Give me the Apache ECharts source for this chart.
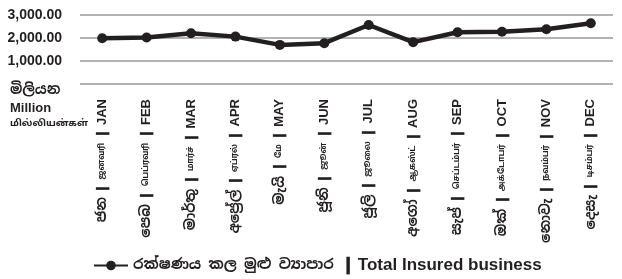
<!DOCTYPE html>
<html><head><meta charset="utf-8">
<script src="https://cdn.jsdelivr.net/npm/echarts@6/dist/echarts.min.js"></script>
<style>html,body{margin:0;padding:0;background:#fff}#c{width:622px;height:279px}</style>
</head><body><div id="c"></div>
<script>
const monthsSi = ['ජන','පෙබ','මාර්තු','අප්‍රේල්','මැයි','ජූනි','ජූලි','අගෝ','සැප්','ඔක්','නොවැ','දෙසැ'];
const monthsTa = ['ஜனவரி','பெப்ரவரி','மார்ச்','ஏப்ரல்','மே','ஜூன்','ஜூலை','ஆகஸ்ட்','செப்டம்பர்','அக்டோபர்','நவம்பர்','டிசம்பர்'];
const monthsEn = ['JAN','FEB','MAR','APR','MAY','JUN','JUL','AUG','SEP','OCT','NOV','DEC'];
const insured = [1990, 2020, 2210, 2060, 1700, 1775, 2565, 1820, 2250, 2275, 2380, 2640];
const yTicks = [0, 1000, 2000, 3000];
const seriesName = 'රක්ෂණය කල මුළු ව්‍යාපාර | Total Insured business';

const NARROW = '"Liberation Sans Narrow","Arial Narrow","Liberation Sans",sans-serif';
const SI = '"Noto Sans Sinhala","Noto Sans",sans-serif';
const TA = '"Noto Sans Tamil","Noto Sans",sans-serif';
const chart = echarts.init(document.getElementById('c'));
chart.setOption({
  animation: false,
  grid: {left: 80, right: 9, top: 15, bottom: 195, containLabel: false},
  xAxis: {
    type: 'category',
    data: monthsEn.map((m, i) => monthsSi[i] + '|' + monthsTa[i] + '|' + m),
    boundaryGap: true,
    axisLine: {show: false}, axisTick: {show: false},
    axisLabel: {
      interval: 0, rotate: 90, margin: 15,
      formatter: v => { const p = v.split('|'); return '{si|' + p[0] + '} {bar|❙} {ta|' + p[1] + '} {bar|❙} {en|' + p[2] + '}'; },
      rich: {
        si: {fontSize: 14, fontWeight: 'bold', color: '#231f20', fontFamily: SI},
        ta: {fontSize: 8, fontWeight: 'bold', color: '#231f20', fontFamily: TA},
        bar: {fontSize: 13, fontWeight: 'bold', color: '#231f20', fontFamily: NARROW},
        en: {fontSize: 13, fontWeight: 'bold', color: '#231f20', fontFamily: NARROW}
      }
    }
  },
  yAxis: {
    type: 'value', min: yTicks[0], max: yTicks[yTicks.length - 1], interval: 1000,
    axisLine: {show: false}, axisTick: {show: false},
    splitLine: {lineStyle: {color: '#9a9a9a', width: 1.5}},
    axisLabel: {
      margin: 18, fontSize: 14, fontWeight: 'bold', color: '#231f20', fontFamily: NARROW,
      formatter: v => v === 0 ? '' : v.toLocaleString('en-US', {minimumFractionDigits: 2, maximumFractionDigits: 2})
    }
  },
  legend: {
    left: 88, top: 252, itemWidth: 34, itemHeight: 12, itemGap: 6,
    formatter: () => '{si|රක්ෂණය කල මුළු ව්‍යාපාර}  {bar|❙} {en|Total Insured business}',
    textStyle: {
      rich: {
        si: {fontSize: 14.5, fontWeight: 'bold', color: '#231f20', fontFamily: SI},
        bar: {fontSize: 17, fontWeight: 'bold', color: '#231f20', fontFamily: NARROW},
        en: {fontSize: 17, fontWeight: 'bold', color: '#231f20', fontFamily: NARROW}
      }
    },
    data: [seriesName]
  },
  graphic: [{
    type: 'text', left: 10, top: 83,
    style: {
      text: '{si|මිලියන}\n{en|Million}\n{ta|மில்லியன்கள்}',
      rich: {
        si: {fontSize: 14, fontWeight: 'bold', fill: '#231f20', lineHeight: 20, fontFamily: SI},
        en: {fontSize: 13, fontWeight: 'bold', fill: '#231f20', lineHeight: 16, fontFamily: NARROW},
        ta: {fontSize: 9.5, fontWeight: 'bold', fill: '#231f20', lineHeight: 16, fontFamily: TA}
      }
    }
  }],
  series: [{
    name: seriesName, type: 'line', data: insured,
    symbol: 'circle', symbolSize: 10,
    lineStyle: {color: '#231f20', width: 4.5},
    itemStyle: {color: '#231f20'}
  }]
});
</script></body></html>
